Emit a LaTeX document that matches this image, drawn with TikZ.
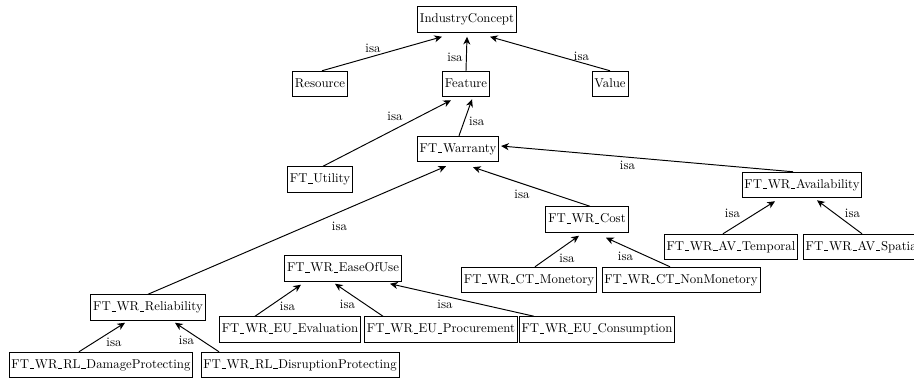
\documentclass[tikz,border=0pt]{standalone}
\usetikzlibrary{arrows.meta,calc}
\newcommand{\us}{\kern0.06em\rule[-0.6pt]{0.33em}{0.45pt}\kern0.06em}
\begin{document}
\begin{tikzpicture}[x=0.78pt,y=-0.78pt,
  concept/.style={draw, line width=0.75pt, inner xsep=1.8pt, inner ysep=5.45pt,
    text height=7pt, text depth=2pt, font=\normalsize},
  isa/.style={-{Stealth[length=6pt,width=5.5pt,inset=1.8pt]}, line width=0.75pt},
  lbl/.style={anchor=base, inner sep=0pt}]
\useasboundingbox (0,0) rectangle (914,378);
% nodes
\node[concept] (ic)     at (467,19.5)  {IndustryConcept};
\node[concept] (res)    at (320,84)    {Resource};
\node[concept] (feat)   at (466,84)    {Feature};
\node[concept] (val)    at (610,84)    {Value};
\node[concept] (war)    at (458,149)   {FT\us Warranty};
\node[concept] (util)   at (320,179.5) {FT\us Utility};
\node[concept] (avail)  at (802,185)   {FT\us WR\us Availability};
\node[concept] (cost)   at (587,219.5) {FT\us WR\us Cost};
\node[concept] (temp)   at (731,247)   {FT\us WR\us AV\us Temporal};
\node[concept] (spat)   at (863,247)   {FT\us WR\us AV\us Spatial};
\node[concept] (eou)    at (343,268.5) {FT\us WR\us EaseOfUse};
\node[concept] (mon)    at (529,280)   {FT\us WR\us CT\us Monetory};
\node[concept] (nonmon) at (681,280)   {FT\us WR\us CT\us NonMonetory};
\node[concept] (rel)    at (148,307.5) {FT\us WR\us Reliability};
\node[concept] (eval)   at (290,329.5) {FT\us WR\us EU\us Evaluation};
\node[concept] (proc)   at (441,329.5) {FT\us WR\us EU\us Procurement};
\node[concept] (cons)   at (597,329.5) {FT\us WR\us EU\us Consumption};
\node[concept] (dam)    at (101,365)   {FT\us WR\us RL\us DamageProtecting};
\node[concept] (dis)    at (300,365)   {FT\us WR\us RL\us DisruptionProtecting};
% edges
\draw[isa] ($(res.north)+(2,0)$) -- ($(ic.south)+(-25,4)$) node[lbl] (l1) at (373,52.7) {isa};
\draw[isa] (feat.north) -- ($(ic.south)+(0,4)$) node[lbl] (l2) at (455,61) {isa};
\draw[isa] (val.north) -- ($(ic.south)+(23,4)$) node[lbl] (l3) at (581.5,60.7) {isa};
\draw[isa] ($(util.north)+(3,0)$) -- ($(feat.south)+(-15,3)$) node[lbl] (l4) at (395,120.7) {isa};
\draw[isa] ($(war.north)+(1,0)$) -- ($(feat.south)+(6,2)$) node[lbl] (l5) at (476.7,125) {isa};
\draw[isa] ($(avail.north)+(-9,0)$) -- ($(war.east)+(2,-3)$) node[lbl] (l6) at (627.5,169.3) {isa};
\draw[isa] ($(cost.north)+(3,0)$) -- ($(war.south)+(15,5)$) node[lbl] (l7) at (522,198.3) {isa};
\draw[isa] (rel.north) -- ($(war.south)+(-12,4)$) node[lbl] (l8) at (339.5,230) {isa};
\draw[isa] ($(temp.north)+(-8,0)$) -- ($(avail.south)+(-27,3)$) node[lbl] (l9) at (732.5,217.7) {isa};
\draw[isa] ($(spat.north)+(-1,0)$) -- ($(avail.south)+(15,2)$) node[lbl] (l10) at (852.5,217.7) {isa};
\draw[isa] ($(mon.north)+(6,0)$) -- ($(cost.south)+(-8,3)$) node[lbl] (l11) at (567,262.7) {isa};
\draw[isa] ($(nonmon.north)+(-11,0)$) -- ($(cost.south)+(19,5)$) node[lbl] (l12) at (625.5,260) {isa};
\draw[isa] ($(eval.north)+(-35,0)$) -- ($(eou.south)+(-42,3)$) node[lbl] (l13) at (287.5,310.7) {isa};
\draw[isa] ($(proc.north)+(-58,0)$) -- ($(eou.south)+(-8,2)$) node[lbl] (l14) at (347.5,308.3) {isa};
\draw[isa] ($(cons.north)+(-63,0)$) -- ($(eou.south)+(47,2)$) node[lbl] (l15) at (445,308.3) {isa};
\draw[isa] ($(dam.north)+(-22,0)$) -- ($(rel.south)+(-23,2)$) node[lbl] (l16) at (114,346.7) {isa};
\draw[isa] ($(dis.north)+(-81,0)$) -- ($(rel.south)+(27,2)$) node[lbl] (l17) at (186.5,344.3) {isa};
\end{tikzpicture}
\end{document}
